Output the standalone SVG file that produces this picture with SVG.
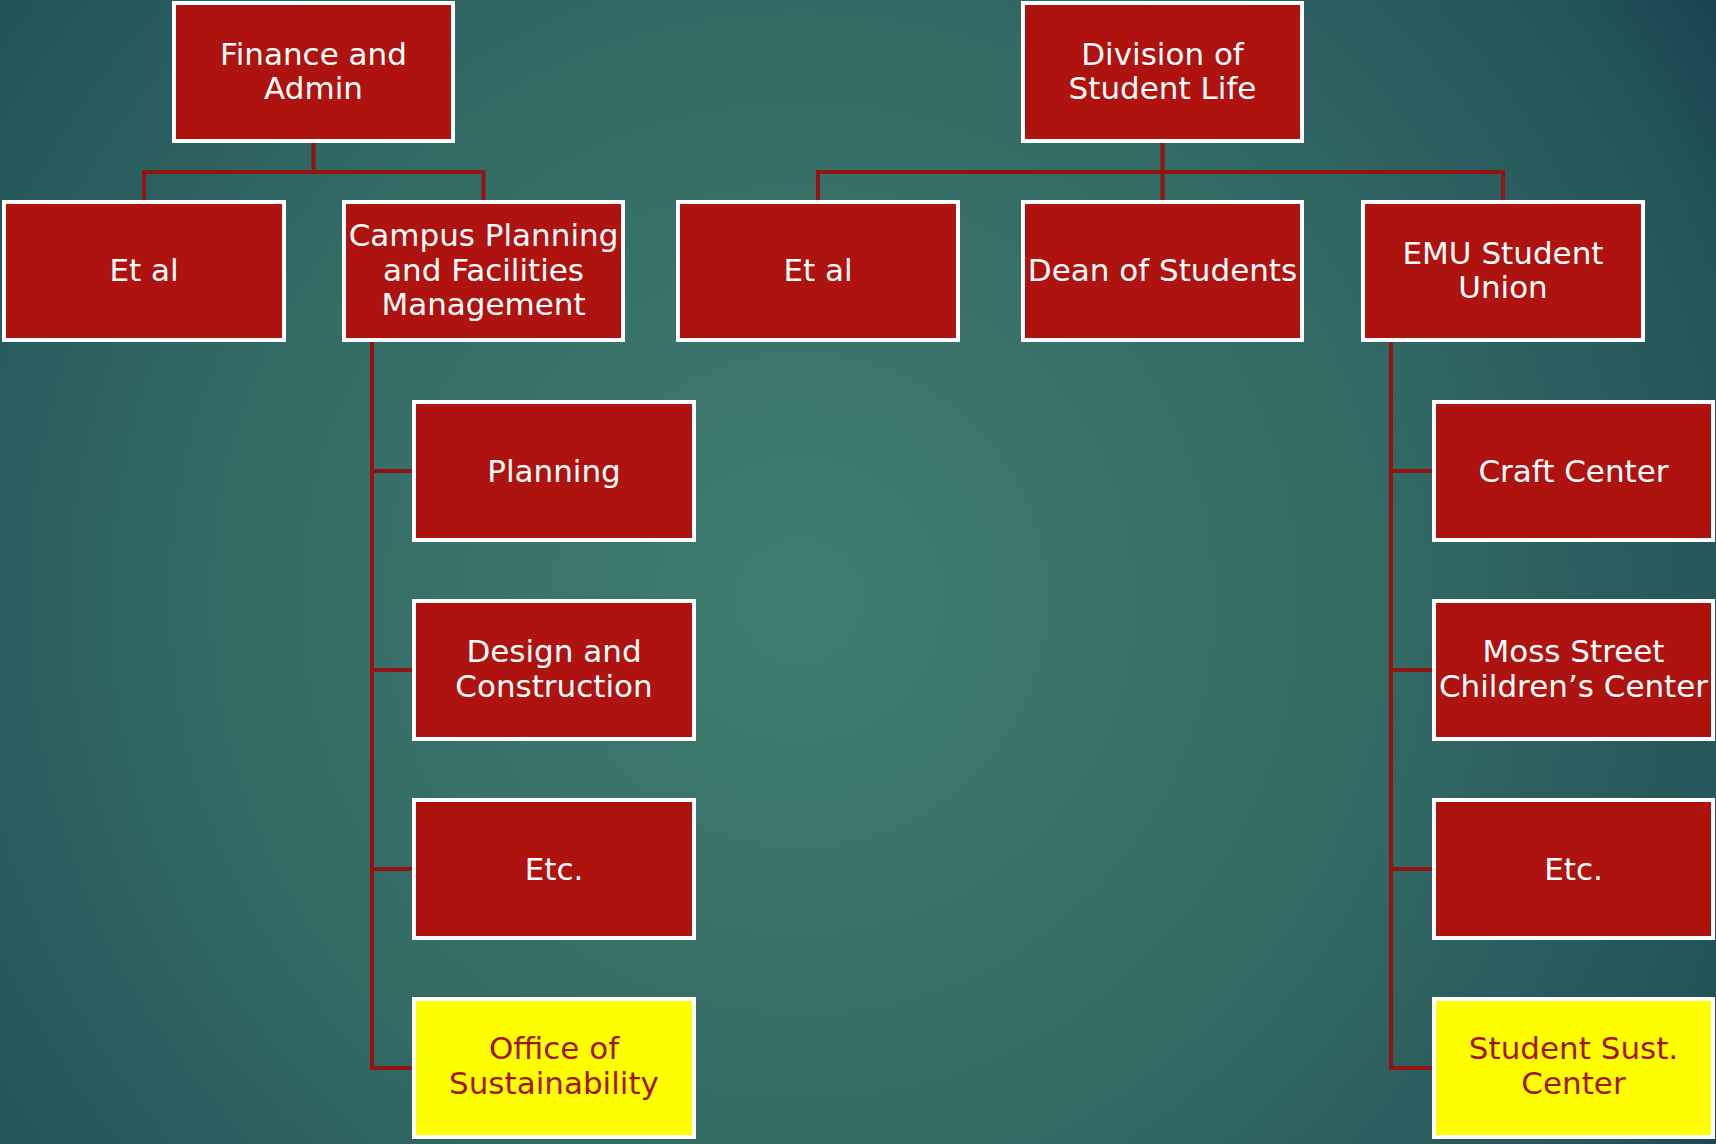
<svg xmlns="http://www.w3.org/2000/svg" width="1716" height="1144" viewBox="0 0 1716 1144">
<defs>
<radialGradient id="bg" gradientUnits="userSpaceOnUse" cx="800" cy="600" r="1140">
<stop offset="0" stop-color="#407C6F"/>
<stop offset="0.5" stop-color="#336B65"/>
<stop offset="0.85" stop-color="#245459"/>
<stop offset="1" stop-color="#163E4A"/>
</radialGradient>
<style>
.box{fill:#AE1310;stroke:#FFFFFF;stroke-width:4}
.ybox{fill:#FFFF00;stroke:#FFFFFF;stroke-width:4}
.t{font-family:"DejaVu Sans","Liberation Sans",sans-serif;font-size:31px;fill:#FFFFFF;text-anchor:middle}
.yt{fill:#A3150F}
.c{fill:none;stroke:#931212;stroke-width:4}
</style>
</defs>
<rect x="0" y="0" width="1716" height="1144" fill="url(#bg)"/>
<g id="connectors">
<path class="c" d="M313.5 143 V172"/>
<path class="c" d="M144 200 V172 H483.5 V200"/>
<path class="c" d="M1162.5 143 V200"/>
<path class="c" d="M818 200 V172 H1503 V200"/>
<path class="c" d="M372 342 V1068 H414"/>
<path class="c" d="M372 471 H414 M372 670 H414 M372 869 H414"/>
<path class="c" d="M1391 342 V1068 H1434"/>
<path class="c" d="M1391 471 H1434 M1391 670 H1434 M1391 869 H1434"/>
</g>
<g id="finance"><rect class="box" x="174" y="3" width="279" height="138"/><text class="t" x="313.5" y="65">Finance and</text><text class="t" x="313.5" y="99">Admin</text></g>
<g id="division"><rect class="box" x="1023" y="3" width="279" height="138"/><text class="t" x="1162.5" y="65">Division of</text><text class="t" x="1162.5" y="99">Student Life</text></g>
<g id="etal-left"><rect class="box" x="4" y="202" width="280" height="138"/><text class="t" x="144" y="281">Et al</text></g>
<g id="campus"><rect class="box" x="344" y="202" width="279" height="138"/><text class="t" x="483.5" y="246">Campus Planning</text><text class="t" x="483.5" y="281">and Facilities</text><text class="t" x="483.5" y="315">Management</text></g>
<g id="etal-mid"><rect class="box" x="678" y="202" width="280" height="138"/><text class="t" x="818" y="281">Et al</text></g>
<g id="dean"><rect class="box" x="1023" y="202" width="279" height="138"/><text class="t" x="1162.5" y="281">Dean of Students</text></g>
<g id="emu"><rect class="box" x="1363" y="202" width="280" height="138"/><text class="t" x="1503" y="264">EMU Student</text><text class="t" x="1503" y="298">Union</text></g>
<g id="planning"><rect class="box" x="414" y="402" width="280" height="138"/><text class="t" x="554" y="482">Planning</text></g>
<g id="design"><rect class="box" x="414" y="601" width="280" height="138"/><text class="t" x="554" y="662">Design and</text><text class="t" x="554" y="697">Construction</text></g>
<g id="etc-left"><rect class="box" x="414" y="800" width="280" height="138"/><text class="t" x="554" y="880">Etc.</text></g>
<g id="office"><rect class="ybox" x="414" y="999" width="280" height="138"/><text class="t yt" x="554" y="1059">Office of</text><text class="t yt" x="554" y="1094">Sustainability</text></g>
<g id="craft"><rect class="box" x="1434" y="402" width="279" height="138"/><text class="t" x="1573.5" y="482">Craft Center</text></g>
<g id="moss"><rect class="box" x="1434" y="601" width="279" height="138"/><text class="t" x="1573.5" y="662">Moss Street</text><text class="t" x="1573.5" y="697">Children’s Center</text></g>
<g id="etc-right"><rect class="box" x="1434" y="800" width="279" height="138"/><text class="t" x="1573.5" y="880">Etc.</text></g>
<g id="sust-center"><rect class="ybox" x="1434" y="999" width="279" height="138"/><text class="t yt" x="1573.5" y="1059">Student Sust.</text><text class="t yt" x="1573.5" y="1094">Center</text></g>
</svg>
